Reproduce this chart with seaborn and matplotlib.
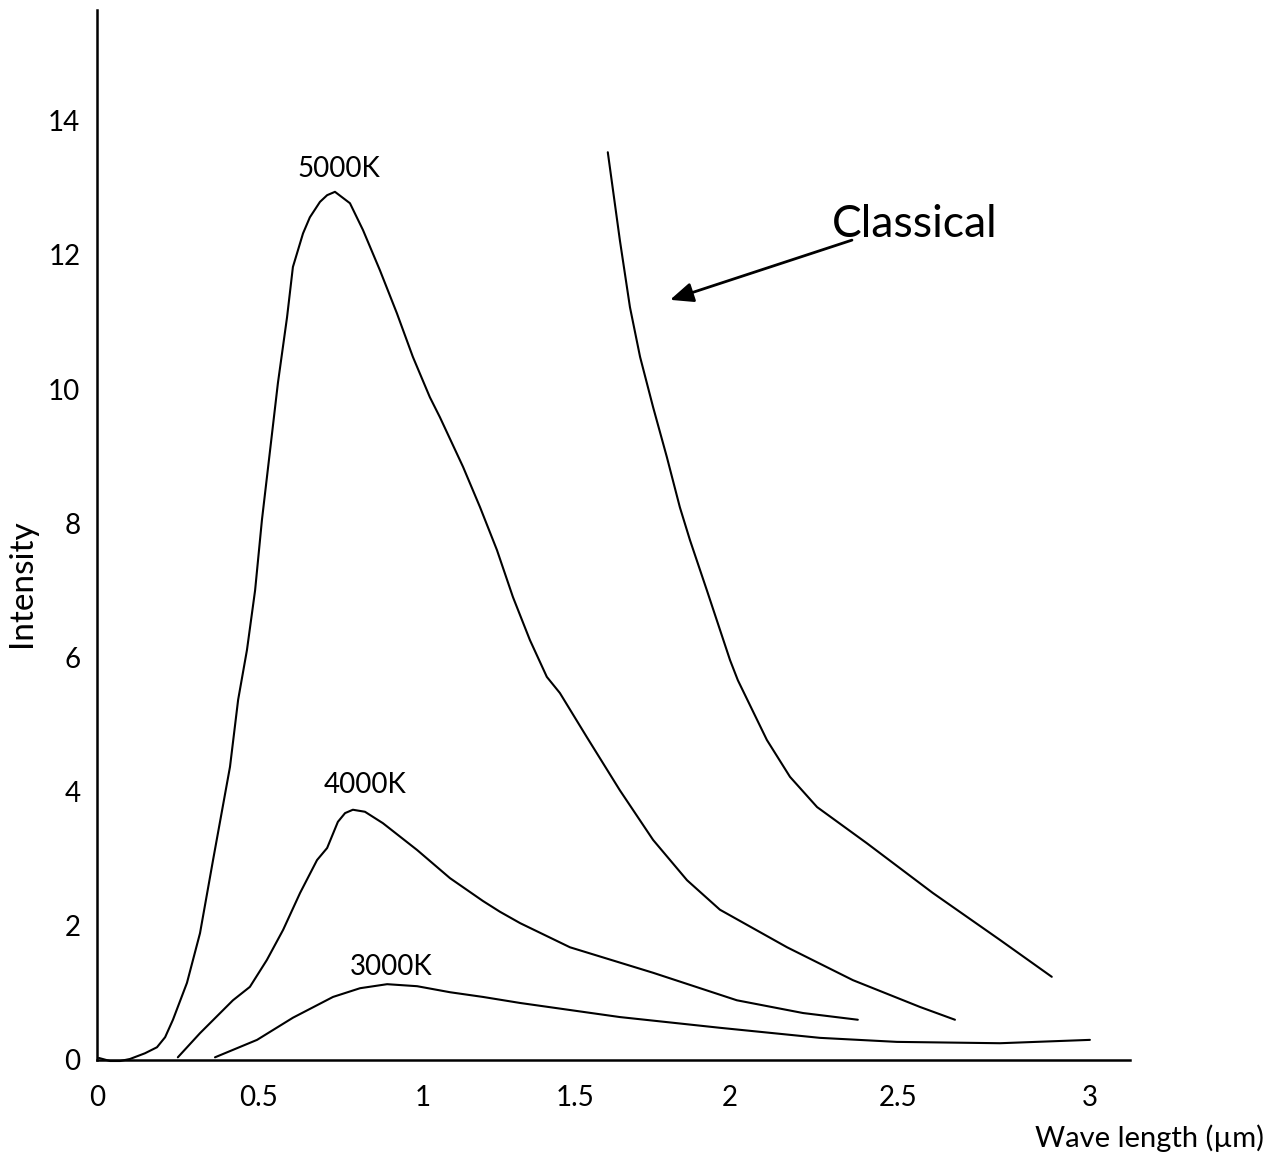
import matplotlib
matplotlib.use("Agg")
import matplotlib.pyplot as plt
import seaborn as sns
import pandas as pd

# ---------------- data ----------------
x_5000 = [0.006, 0.040, 0.071, 0.101, 0.147, 0.184, 0.209, 0.233, 0.276, 0.316,
          0.356, 0.408, 0.433, 0.460, 0.485, 0.506, 0.531, 0.555, 0.583, 0.601,
          0.632, 0.653, 0.684, 0.706, 0.730, 0.776, 0.816, 0.868, 0.920, 0.969,
          1.021, 1.052, 1.123, 1.175, 1.227, 1.276, 1.328, 1.380, 1.390, 1.420,
          1.503, 1.604, 1.706, 1.810, 1.911, 2.117, 2.319, 2.525, 2.632]
y_5000 = [0.03, -0.015, -0.015, 0.015, 0.10, 0.19, 0.34, 0.60, 1.15, 1.89,
          2.98, 4.37, 5.37, 6.11, 7.00, 8.05, 9.09, 10.09, 11.07, 11.82,
          12.32, 12.56, 12.79, 12.89, 12.94, 12.77, 12.37, 11.77, 11.13, 10.48,
          9.88, 9.58, 8.84, 8.24, 7.60, 6.90, 6.26, 5.71, 5.65, 5.47,
          4.81, 4.02, 3.28, 2.68, 2.24, 1.68, 1.19, 0.79, 0.60]

x_4000 = [0.248, 0.316, 0.417, 0.469, 0.521, 0.571, 0.623, 0.675, 0.706, 0.739,
          0.761, 0.785, 0.822, 0.877, 0.982, 1.083, 1.184, 1.236, 1.298, 1.451,
          1.706, 1.963, 2.166, 2.334]
y_4000 = [0.04, 0.40, 0.89, 1.09, 1.49, 1.94, 2.49, 2.98, 3.16, 3.55,
          3.68, 3.73, 3.70, 3.53, 3.13, 2.71, 2.37, 2.21, 2.04, 1.68,
          1.30, 0.89, 0.70, 0.60]

x_3000 = [0.362, 0.491, 0.601, 0.724, 0.807, 0.890, 0.982, 1.083, 1.184, 1.298,
          1.604, 1.911, 2.218, 2.454, 2.770, 3.046]
y_3000 = [0.04, 0.30, 0.63, 0.94, 1.07, 1.13, 1.10, 1.01, 0.94, 0.85,
          0.64, 0.48, 0.33, 0.27, 0.25, 0.30]

x_classical = [1.567, 1.604, 1.635, 1.666, 1.706, 1.748, 1.788, 1.819, 1.871, 1.942,
               1.966, 2.055, 2.126, 2.209, 2.362, 2.564, 2.770, 2.929]
y_classical = [13.53, 12.22, 11.22, 10.48, 9.73, 8.99, 8.24, 7.75, 7.00, 5.96,
               5.66, 4.77, 4.22, 3.77, 3.23, 2.49, 1.79, 1.24]

series_names = ["5000K", "4000K", "3000K", "Classical"]

x_tick_labels = ["0", "0.5", "1", "1.5", "2", "2.5", "3"]
y_tick_values = [0, 2, 4, 6, 8, 10, 12, 14]

x_label = "Wave length (\u00b5m)"
y_label = "Intensity"

# ---------------- layout / style ----------------
x_tick_pos = [0.0, 0.494, 1.0, 1.466, 1.942, 2.457, 3.046]

frames = []
for name, xs, ys in zip(series_names,
                        [x_5000, x_4000, x_3000, x_classical],
                        [y_5000, y_4000, y_3000, y_classical]):
    frames.append(pd.DataFrame({"wavelength": xs, "intensity": ys, "series": name}))
df = pd.concat(frames, ignore_index=True)

sns.set_style("white")
plt.rcParams["font.family"] = ["Lato", "DejaVu Sans"]
plt.rcParams["text.color"] = "black"
plt.rcParams["axes.labelcolor"] = "black"
plt.rcParams["xtick.color"] = "black"
plt.rcParams["ytick.color"] = "black"

fig = plt.figure(figsize=(12.77, 11.52), dpi=100)
ax = fig.add_axes([97 / 1277, 1 - 1060 / 1152, 1033 / 1277, 1050 / 1152])

sns.lineplot(data=df, x="wavelength", y="intensity", hue="series",
             palette={n: "black" for n in series_names}, estimator=None,
             sort=False, legend=False, linewidth=1.5, ax=ax)
for ln in ax.lines:
    ln.set_clip_on(False)
    ln.set_solid_joinstyle("round")
    ln.set_solid_capstyle("round")

ax.set_xlim(0, 3.169)
ax.set_ylim(0, 15.65)

for s in ["top", "right"]:
    ax.spines[s].set_visible(False)
for s in ["left", "bottom"]:
    ax.spines[s].set_linewidth(1.8)
    ax.spines[s].set_color("black")

ax.set_xticks(x_tick_pos)
ax.set_xticklabels(x_tick_labels)
ax.set_yticks(y_tick_values)
ax.set_yticklabels([str(v) for v in y_tick_values])

ax.tick_params(axis="x", direction="in", length=13, width=1.4, pad=18,
               labelsize=20, colors="black")
ax.tick_params(axis="y", direction="in", length=22, width=1.4, pad=12,
               labelsize=20, colors="black")

ax.set_xlabel(x_label, fontsize=21, color="black")
ax.xaxis.set_label_coords(1.0184, -0.061)
ax.set_ylabel(y_label, fontsize=24, color="black")
ax.yaxis.set_label_coords(-0.058, 0.454)

# curve labels
ax.text(0.742, 13.16, "5000K", ha="center", va="baseline", fontsize=20, color="black")
ax.text(0.822, 3.98, "4000K", ha="center", va="baseline", fontsize=20, color="black")
ax.text(0.902, 1.27, "3000K", ha="center", va="baseline", fontsize=20, color="black")
ax.text(2.509, 12.27, "Classical", ha="center", va="baseline", fontsize=32, color="black")

ax.annotate("", xy=(1.758, 11.33), xytext=(2.316, 12.22),
            arrowprops=dict(arrowstyle="-|>,head_length=0.7,head_width=0.3",
                            mutation_scale=20, lw=2, color="black",
                            shrinkA=0, shrinkB=0))

fig.savefig("out.png", dpi=100)
